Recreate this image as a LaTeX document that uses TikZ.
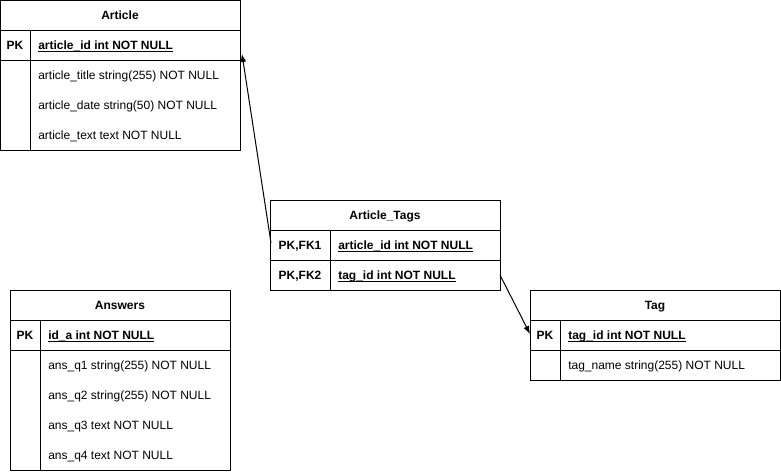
\documentclass[tikz,border=0pt]{standalone}
\usepackage{fontspec}
\setmainfont{Liberation Sans}
\usetikzlibrary{arrows.meta}
\newdimen\pxu \pxu=0.75pt
\newcommand\keyul[1]{\underline{\smash{#1}}}
\begin{document}
\begin{tikzpicture}[x=0.75pt,y=-0.75pt,font=\fontsize{9pt}{11pt}\selectfont,
  box/.style={draw, line width=0.75pt, anchor=north west, inner sep=0pt, outer sep=0pt},
  sep/.style={line width=0.75pt},
  hdr/.style={font=\fontsize{9pt}{11pt}\selectfont\bfseries, inner sep=0pt, anchor=base, yshift=-4.5\pxu},
  keyl/.style={font=\fontsize{9pt}{11pt}\selectfont\bfseries, inner sep=0pt, anchor=base, yshift=-4.5\pxu},
  fld/.style={anchor=base west, inner sep=0pt, yshift=-4.5\pxu},
  pkfld/.style={anchor=base west, inner sep=0pt, yshift=-4.5\pxu, font=\fontsize{9pt}{11pt}\selectfont\bfseries},
  rel/.style={line width=0.75pt, -{Latex[length=6pt,width=4.5pt]}}]
\useasboundingbox (0,0) rectangle (781,471);
% Article
\node[box, minimum width=240\pxu, minimum height=150\pxu] (article) at (0,0) {};
\draw[sep] (0,30) -- (240,30) (0,60) -- (240,60) (30,30) -- (30,150);
\node[hdr] (articleT) at (120,15) {Article};
\node[keyl] (articleK) at (15,45) {PK};
\node[pkfld] (articleF1) at (38,45) {\keyul{article\_id int NOT NULL}};
\node[fld] (articleF2) at (38,75) {article\_title string(255) NOT NULL};
\node[fld] (articleF3) at (38,105) {article\_date string(50) NOT NULL};
\node[fld] (articleF4) at (38,135) {article\_text text NOT NULL};
\coordinate (articleR) at (242,54);
% Article_Tags
\node[box, minimum width=230\pxu, minimum height=90\pxu] (tags) at (270,200) {};
\draw[sep] (270,230) -- (500,230) (270,260) -- (500,260) (330,230) -- (330,290);
\node[hdr] (tagsT) at (385,215) {Article\_Tags};
\node[keyl] (tagsK1) at (300,245) {PK,FK1};
\node[keyl] (tagsK2) at (300,275) {PK,FK2};
\node[pkfld] (tagsF1) at (338,245) {\keyul{article\_id int NOT NULL}};
\node[pkfld] (tagsF2) at (338,275) {\keyul{tag\_id int NOT NULL}};
\coordinate (tagsL) at (271,243);
\coordinate (tagsR) at (500,275);
% Answers
\node[box, minimum width=220\pxu, minimum height=180\pxu] (answers) at (10,290) {};
\draw[sep] (10,320) -- (230,320) (10,350) -- (230,350) (40,320) -- (40,470);
\node[hdr] (answersT) at (120,305) {Answers};
\node[keyl] (answersK) at (25,335) {PK};
\node[pkfld] (answersF1) at (48,335) {\keyul{id\_a int NOT NULL}};
\node[fld] (answersF2) at (48,365) {ans\_q1 string(255) NOT NULL};
\node[fld] (answersF3) at (48,395) {ans\_q2 string(255) NOT NULL};
\node[fld] (answersF4) at (48,425) {ans\_q3 text NOT NULL};
\node[fld] (answersF5) at (48,455) {ans\_q4 text NOT NULL};
% Tag
\node[box, minimum width=250\pxu, minimum height=90\pxu] (tag) at (530,290) {};
\draw[sep] (530,320) -- (780,320) (530,350) -- (780,350) (560,320) -- (560,380);
\node[hdr] (tagT) at (655,305) {Tag};
\node[keyl] (tagK) at (545,335) {PK};
\node[pkfld] (tagF1) at (568,335) {\keyul{tag\_id int NOT NULL}};
\node[fld] (tagF2) at (568,365) {tag\_name string(255) NOT NULL};
\coordinate (tagL) at (530,334);
% relations
\draw[rel] (tagsL) -- (articleR);
\draw[rel] (tagsR) -- (tagL);
\end{tikzpicture}
\end{document}
